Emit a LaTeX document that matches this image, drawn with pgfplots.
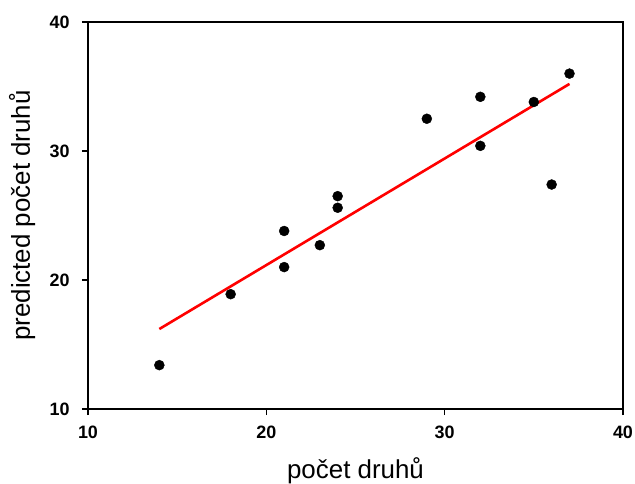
\documentclass[border=0pt]{standalone}
\usepackage{fontspec}
\setmainfont{Liberation Sans}
\usepackage{pgfplots}
\pgfplotsset{compat=1.18}
\begin{document}
\begin{tikzpicture}[x=1bp,y=1bp]
\begin{axis}[
  at={(0,0)}, anchor=south west,
  scale only axis, width=535bp, height=387bp,
  xmin=10, xmax=40, ymin=10, ymax=40,
  xtick={10,20,30,40}, ytick={10,20,30,40},
  tick pos=left, tick align=outside,
  major tick length=6bp,
  axis line style={line width=1.4bp},
  every tick/.style={black, line width=1.2bp},
  /pgf/number format/assume math mode=true,
  tick label style={font=\fontsize{18}{18}\selectfont\bfseries},
  xticklabel style={anchor=center, yshift=-17bp},
  yticklabel style={anchor=east, xshift=-9bp},
  xlabel={počet druhů},
  ylabel={predicted počet druhů},
  label style={font=\fontsize{26}{26}\selectfont},
  xlabel style={at={(axis description cs:0.5,0)}, anchor=center, yshift=-62bp},
  ylabel style={at={(axis description cs:0,0.5)}, anchor=center, yshift=66bp},
  clip=false,
]
% observed vs. predicted species counts
\addplot[only marks, mark=*, mark size=5bp, black] coordinates {
  (14,13.4) (18,18.9) (21,23.8) (21,21.0) (23,22.7) (24,26.5) (24,25.6)
  (29,32.5) (32,34.2) (32,30.4) (35,33.8) (36,27.4) (37,36.0)
};
% fitted regression line
\addplot[red, line width=2.6bp] coordinates {(14,16.2) (37,35.2)};
\end{axis}
\pgfresetboundingbox
\path[use as bounding box] (-88bp,-75bp) rectangle (547bp,409bp);
\end{tikzpicture}
\end{document}
